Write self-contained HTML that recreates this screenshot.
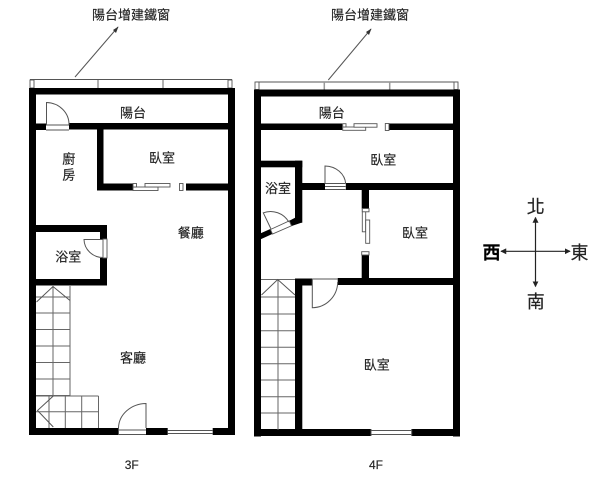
<!DOCTYPE html>
<html>
<head>
<meta charset="utf-8">
<style>
html,body{margin:0;padding:0;background:#fff;width:605px;height:480px;overflow:hidden}
svg{display:block;filter:blur(.3px)}
text{font-family:"Liberation Sans","Noto Sans CJK TC",sans-serif;fill:#222;stroke:#222;stroke-width:.15;text-anchor:middle;dominant-baseline:central;font-size:13px}
.w{fill:#000}
.l{stroke:#555;stroke-width:1;fill:none}
.s{stroke:#666;stroke-width:1;fill:none}
.d{stroke:#999;stroke-width:1.5;fill:none}
.f{fill:#fff;stroke:#555;stroke-width:.9}
.n{fill:#fff;stroke:none}
</style>
</head>
<body>
<svg width="605" height="480" viewBox="0 0 605 480">
<defs>
<marker id="a" viewBox="0 0 8 8" refX="7" refY="4" markerWidth="5" markerHeight="5" orient="auto-start-reverse"><path d="M0 0L8 4L0 8z" fill="#222"/></marker>
</defs>

<!-- 3F -->
<g>
<path class="l" d="M30 79.500H232"/>
<path class="d" d="M98 80V88M163 80V88"/>
<rect class="f" x="30" y="80" width="4" height="8"/>
<rect class="f" x="228" y="80" width="4" height="8"/>
<path class="l" d="M75 77L118 27"/><path fill="#333" d="M118.500 26.500L113 30L116 33z"/>
<rect class="w" x="29" y="88" width="206" height="6.500"/>
<rect class="w" x="29" y="88" width="7" height="347"/>
<rect class="w" x="228" y="88" width="7" height="347"/>
<rect class="w" x="29" y="428" width="89.500" height="7"/>
<rect class="w" x="146" y="428" width="89" height="7"/>
<rect class="w" x="69" y="123" width="159" height="6.500"/>
<rect class="w" x="36" y="123.500" width="10" height="6.500"/>
<rect class="w" x="97" y="129" width="6.500" height="61.500"/>
<rect class="w" x="97" y="183.500" width="36" height="7"/>
<rect class="w" x="186" y="183.500" width="42" height="7"/>
<rect class="w" x="36" y="225" width="71" height="7"/>
<rect class="w" x="100" y="225" width="7" height="14"/>
<rect class="w" x="100" y="258" width="7" height="27.500"/>
<rect class="w" x="36" y="279" width="71" height="6.500"/>

<!-- balcony door -->
<path class="l" d="M46.500 125V102.500A23 22 0 0 1 69 125"/>
<path class="l" d="M46 125H69M46 130H69"/>
<!-- sliding -->
<rect class="f" x="133" y="187" width="25" height="3.500"/>
<rect class="f" x="133" y="183.500" width="3.500" height="3.500"/>
<rect class="f" x="145" y="183.500" width="25" height="3.500"/>
<rect class="f" x="179.500" y="183.500" width="3.500" height="7"/>
<!-- bath door -->
<path class="l" d="M103 239.500H84A19 18.500 0 0 0 103 257.500"/>
<rect class="f" x="103" y="239" width="4" height="19"/>
<!-- stairs upper -->
<path class="s" d="M70 286V395.500H36M53 286V395.500M36 297H70M36 313H70M36 329.500H70M36 346H70M36 362.500H70M36 379H70"/>
<path class="l" d="M36.500 302L53 286.500L70 300.500"/>
<!-- stairs lower -->
<path class="s" d="M36 396H98.500M98.500 396V428M49 396V428M65.300 396V428M81.700 396V428M36 411.700H98.500"/>
<path class="l" d="M53.300 396L37.500 410.500L53.300 427"/>
<!-- main door -->
<path class="l" d="M146 428V403.500A28 25 0 0 0 118.500 428"/>
<rect class="n" x="118.500" y="428" width="27.500" height="7"/>
<path class="l" d="M118.500 430H146M118.500 434.500H146M118.500 428V435"/>
<!-- window bottom -->
<rect class="n" x="167.700" y="428" width="45" height="7"/>
<path class="l" d="M167.700 430.500H212.700M167.700 433.500H212.700"/>

<text x="131" y="15">陽台增建鐵窗</text>
<text x="133" y="113">陽台</text>
<text x="162" y="158">臥室</text>
<text x="68.700" y="159">廚</text>
<text x="68.700" y="175">房</text>
<text x="190.700" y="233">餐廳</text>
<text x="68.300" y="257">浴室</text>
<text x="133" y="358">客廳</text>
<text x="131.700" y="465" style="font-size:12px">3F</text>
</g>

<!-- 4F -->
<g>
<path class="l" d="M256 82H458"/>
<path class="d" d="M324.300 82V89.500M389.700 82V89.500"/>
<rect class="f" x="255" y="82" width="4" height="7.500"/>
<rect class="f" x="454" y="82" width="4" height="7.500"/>
<path class="l" d="M328.300 80L371 29"/><path fill="#333" d="M371.500 28.500L366 32L369 35z"/>
<rect class="w" x="254" y="89.500" width="206" height="7"/>
<rect class="w" x="254" y="89.500" width="7" height="347"/>
<rect class="w" x="453" y="89.500" width="7" height="347"/>
<rect class="w" x="254" y="429" width="117" height="7"/>
<rect class="w" x="411.700" y="429" width="48.300" height="7"/>
<rect class="w" x="261" y="123.500" width="81.300" height="6.500"/>
<rect class="w" x="389" y="123.500" width="64" height="6.500"/>
<rect class="w" x="261" y="160.700" width="41.300" height="6.600"/>
<rect class="w" x="295" y="160.700" width="7.300" height="62"/>
<rect class="w" x="302" y="183" width="23" height="7"/>
<rect class="w" x="345.700" y="183" width="107.300" height="7"/>
<rect class="w" x="361.700" y="190" width="7.300" height="18.500"/>
<rect class="w" x="361.700" y="255" width="7.300" height="23"/>
<rect class="w" x="337.700" y="278" width="115.300" height="7"/>
<rect class="w" x="295" y="278.500" width="17.300" height="7"/>
<rect class="w" x="295" y="278.500" width="7.300" height="152"/>
<polygon class="w" points="260.700,233.300 270.300,229 272.300,234 260.700,239.300"/>
<polygon class="w" points="289.300,220.700 297,216.700 302,216.700 302,222.500 291.700,226"/>

<!-- sliding top -->
<rect class="f" x="342.700" y="127" width="23" height="3.300"/>
<rect class="f" x="342.700" y="123.700" width="3.300" height="3.300"/>
<rect class="f" x="354" y="123.700" width="23" height="3.500"/>
<rect class="f" x="385.300" y="123.500" width="3.700" height="7"/>
<!-- bath door diag -->
<path class="f" d="M270.500 229.500L289.300 220.900L291.500 225.800L272.500 234z"/>
<path class="l" d="M271 229L263.300 212.800A21 21 0 0 1 288.800 222"/>
<!-- bedroom door -->
<path class="l" d="M325 184V166A21 19 0 0 1 345.700 184"/>
<rect class="n" x="325" y="183" width="20.700" height="7"/>
<path class="l" d="M325 183.500H345.700M325 186.500H345.700M325 189.500H345.700"/>
<!-- sliding right -->
<rect class="f" x="362.300" y="208.500" width="3.400" height="23.300"/>
<rect class="f" x="362.300" y="208.500" width="6.700" height="3.300"/>
<rect class="f" x="365.700" y="220" width="4" height="23.300"/>
<rect class="f" x="361.700" y="251.700" width="7.300" height="3.300"/>
<!-- big bedroom door -->
<path class="l" d="M312.300 279V307.700A25.500 26 0 0 0 337.700 282"/>
<path class="l" d="M312.300 279H337.700"/>
<!-- stairs -->
<path class="s" d="M261 279.500H295M278 280V430M261 297H295M261 314H295M261 330.700H295M261 347.300H295M261 363.700H295M261 380H295M261 396.700H295M261 413H295"/>
<path class="l" d="M261.500 295L277.700 279.500L295 295"/>
<!-- window -->
<rect class="n" x="371" y="429" width="40.700" height="7"/>
<path class="l" d="M371 430.500H411.700M371 434.500H411.700M371 429V436M411.700 429V436"/>

<text x="370" y="15">陽台增建鐵窗</text>
<text x="331.700" y="113">陽台</text>
<text x="383.300" y="160">臥室</text>
<text x="278" y="188.500">浴室</text>
<text x="415" y="233">臥室</text>
<text x="376.700" y="365">臥室</text>
<text x="376" y="465" style="font-size:12px">4F</text>
</g>

<!-- compass -->
<g>
<line x1="535.500" y1="217.500" x2="535.500" y2="286.500" stroke="#222" stroke-width="1.200" marker-start="url(#a)" marker-end="url(#a)"/>
<line x1="501" y1="251.300" x2="570" y2="251.300" stroke="#222" stroke-width="1.200" marker-start="url(#a)" marker-end="url(#a)"/>
<text x="535.700" y="207" style="font-size:18px">北</text>
<text x="535.700" y="302" style="font-size:18px">南</text>
<text x="491.500" y="253" style="font-size:18px;fill:#000;font-weight:bold">西</text>
<text x="579.500" y="253" style="font-size:18px">東</text>
</g>
</svg>
</body>
</html>
